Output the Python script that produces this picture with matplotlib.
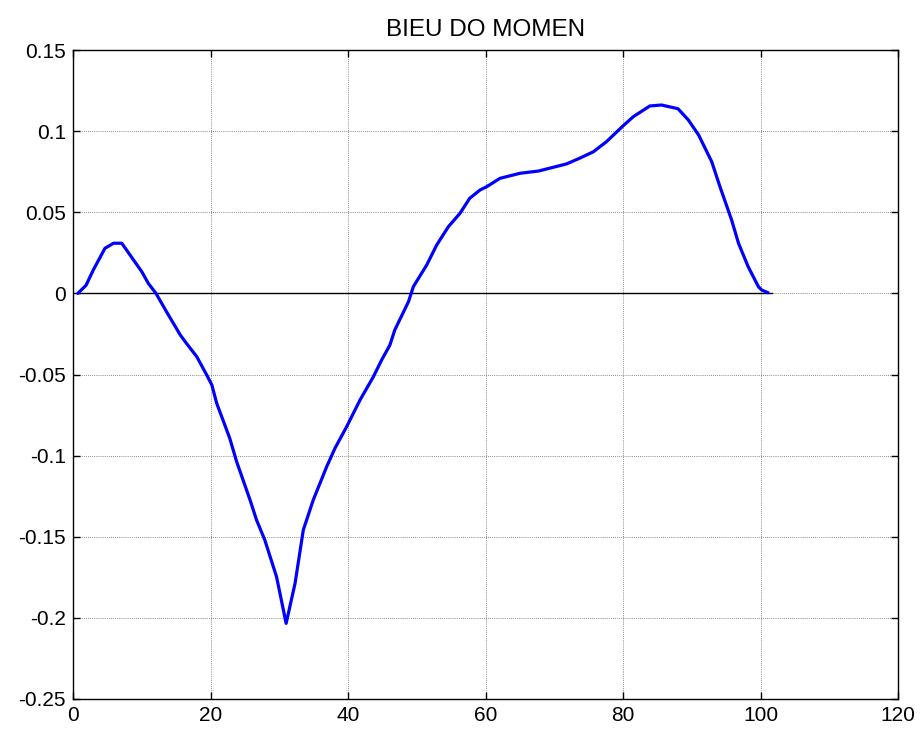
import matplotlib
matplotlib.use("Agg")
import matplotlib.pyplot as plt

x_vals = [0.7, 1.9, 2.95, 4.65, 5.9, 7.1, 8.8, 10.0, 10.95, 12.07, 13.6, 15.6, 16.5,
          18.0, 19.45, 20.2, 20.9, 22.8, 23.8, 25.75, 26.7, 27.9, 29.6, 30.1, 31.0,
          32.3, 33.5, 34.95, 36.9, 38.1, 39.8, 41.75, 43.7, 44.9, 46.1, 46.8, 48.8,
          49.5, 51.45, 52.9, 54.6, 56.3, 57.7, 59.2, 60.2, 62.1, 65.0, 67.7, 71.8,
          73.7, 75.7, 77.6, 80.0, 81.5, 83.9, 85.6, 88.0, 89.5, 91.0, 92.9, 94.1,
          95.8, 96.8, 98.2, 99.7, 100.2, 101.1]
y_vals = [0.0, 0.005, 0.0144, 0.0278, 0.0309, 0.0309, 0.0206, 0.0134, 0.0062, 0.0,
          -0.0113, -0.0256, -0.0308, -0.039, -0.0503, -0.0565, -0.0677, -0.0893,
          -0.1037, -0.1273, -0.1397, -0.152, -0.1746, -0.1848, -0.2034, -0.1787,
          -0.1458, -0.1273, -0.1068, -0.0955, -0.0822, -0.0657, -0.0513, -0.041,
          -0.0318, -0.0226, -0.0051, 0.0041, 0.0175, 0.0298, 0.0411, 0.0494, 0.0586,
          0.0637, 0.0658, 0.0709, 0.074, 0.0754, 0.0798, 0.0833, 0.0873, 0.0935,
          0.1032, 0.1089, 0.1155, 0.1161, 0.1138, 0.1069, 0.0976, 0.0812, 0.0658,
          0.0452, 0.0309, 0.0165, 0.0041, 0.002, 0.0004]
zero_x = [0.7, 101.6]
zero_y = [0.0, 0.0]
x_ticks = [0, 20, 40, 60, 80, 100, 120]
y_ticks = [-0.25, -0.2, -0.15, -0.1, -0.05, 0, 0.05, 0.1, 0.15]
y_tick_labels = ["-0.25", "-0.2", "-0.15", "-0.1", "-0.05", "0", "0.05", "0.1", "0.15"]
title = "BIEU DO MOMEN"

plt.rcParams['font.family'] = ['Liberation Sans', 'DejaVu Sans']

fig = plt.figure(figsize=(9.24, 7.38), dpi=100)
ax = fig.add_axes([73/924, 1 - 699/738, (898 - 73)/924, (699 - 50)/738])

ax.plot(zero_x, zero_y, color='black', linewidth=1.0, zorder=2)
ax.plot(x_vals, y_vals, color='#0000ff', linewidth=2.3, zorder=3,
        solid_joinstyle='round', solid_capstyle='round')

ax.set_xlim(0, 120)
ax.set_ylim(-0.25, 0.15)
ax.set_xticks(x_ticks)
ax.set_yticks(y_ticks)
ax.set_yticklabels(y_tick_labels)
ax.grid(True, linestyle=(0, (1, 1.5)), color='#666666', linewidth=0.6)
ax.tick_params(direction='in', top=True, right=True, length=5, width=1.0,
               labelsize=15, pad=5)
for s in ax.spines.values():
    s.set_linewidth(1.0)
ax.set_title(title, fontsize=17.5, pad=10)

fig.savefig("out.png", dpi=100)
